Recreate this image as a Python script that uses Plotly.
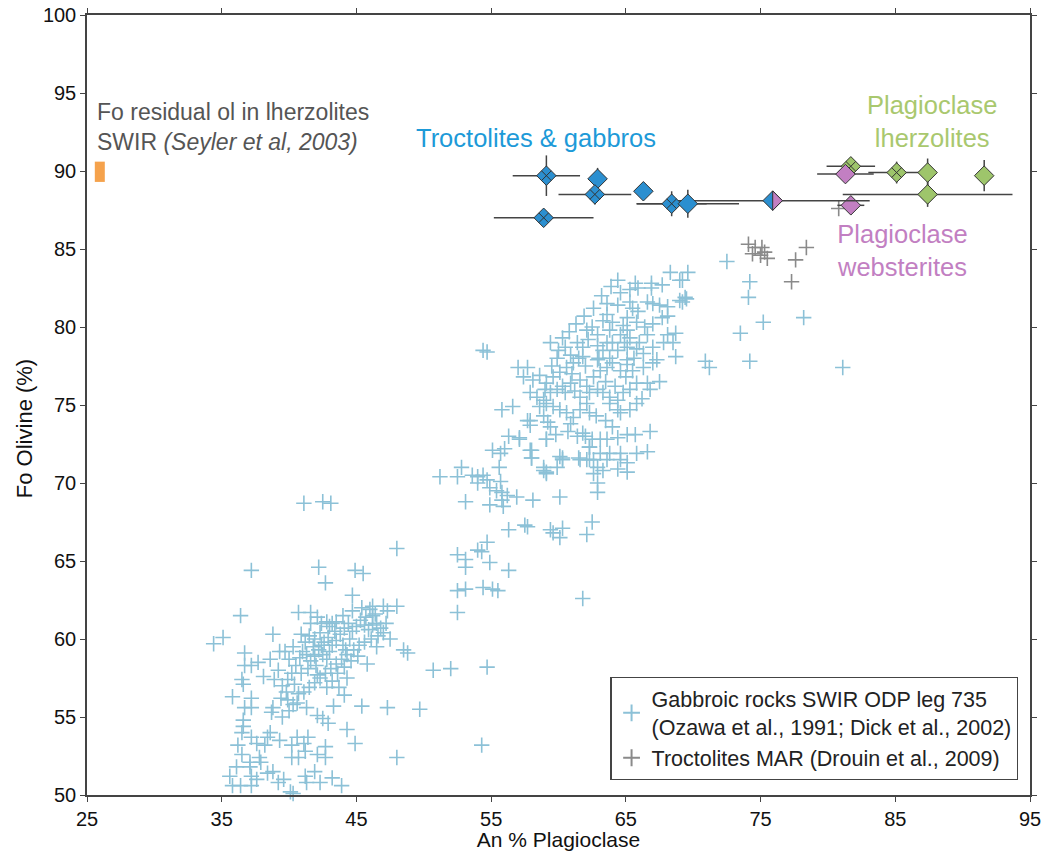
import plotly.graph_objects as go

# ---------------- DATA ----------------
# Gabbroic rocks SWIR ODP leg 735 (An %, Fo %)
gabbro_points = [
    (41.1,68.7),(42.5,68.8),(43.1,68.7),(37.2,64.4),(42.2,64.6),(42.7,63.6),(44.9,64.4),(45.5,64.2),(48.0,65.8),
    (36.4,61.5),(44.7,62.8),(38.8,60.3),(40.7,61.7),(41.6,61.7),(42.1,61.4),(42.8,61.1),(43.2,61.0),
    (46.2,62.1),(47.0,62.1),(48.0,62.1),(47.3,61.8),(46.2,61.5),(35.1,60.1),
    (34.4,59.7),(36.7,59.1),(39.3,59.2),(38.6,58.7),(37.7,58.5),(36.7,58.3),(37.2,58.3),
    (38.1,57.6),(36.5,57.4),(36.6,57.1),(35.8,56.3),(37.2,56.2),(36.7,55.6),(37.2,55.6),(38.8,55.6),(39.5,55.0),(38.7,55.3),
    (36.6,54.8),(36.6,54.4),(36.5,54.0),(37.2,53.7),(37.6,53.3),(38.4,53.7),(38.6,54.0),(38.2,53.2),(36.2,53.2),(36.5,52.6),
    (37.8,52.4),(37.9,52.1),(37.1,52.1),(37.1,51.8),(36.1,51.8),(35.6,51.2),(35.8,50.6),(36.4,50.6),(37.2,50.6),(37.2,51.2),
    (37.6,51.0),(38.4,51.4),(38.8,51.5),(39.2,50.8),(39.6,51.0),(40.1,50.2),(40.3,50.1),
    (39.3,53.5),(40.2,53.2),(40.6,53.7),(41.1,53.3),(41.4,53.7),(41.2,52.8),(42.1,52.6),(42.7,53.1),(42.7,52.4),(40.2,52.4),(40.7,52.4),
    (41.2,51.2),(41.3,50.8),(41.9,51.5),(42.3,50.8),(43.2,51.1),(43.9,50.6),
    (44.3,54.2),(44.9,53.3),(48.0,52.4),(42.5,54.9),(42.9,54.6),(42.1,55.1),
    (39.8,56.6),(39.9,56.1),(40.3,55.8),(41.3,55.6),(43.3,55.7),(45.4,55.7),(47.3,55.6),(49.7,55.5),(44.1,56.4),
    (48.5,59.3),(48.8,59.1),
    (39.5,57.0),(39.9,57.4),(40.2,57.8),(40.5,58.3),(40.8,58.8),(41.0,59.2),(41.3,59.0),(41.6,58.6),(41.9,58.9),(42.2,59.3),
    (42.5,59.0),(42.8,58.7),(41.2,59.8),(41.5,60.2),(41.9,60.0),(42.3,60.4),(42.6,59.8),(42.9,60.1),(43.2,59.6),(43.5,59.9),
    (43.8,60.3),(44.1,60.7),(44.4,61.0),(44.7,60.5),(45.0,60.8),(45.3,61.2),(45.6,60.9),(45.9,60.6),(46.2,60.9),(46.5,61.0),
    (46.8,60.7),(47.0,60.4),(46.6,60.2),(46.1,60.0),(45.6,59.8),(45.2,59.6),(44.8,59.3),(44.3,59.0),(43.9,58.7),(43.5,58.4),
    (43.1,58.1),(42.7,57.8),(42.3,57.5),(41.9,57.2),(41.5,56.9),(41.1,56.6),(40.7,56.5),(40.4,57.1),(40.9,57.8),(41.4,58.1),
    (42.0,58.3),(43.0,59.2),(44.0,59.6),(44.5,60.0),(45.7,61.4),(46.4,61.6),(47.2,61.0),(45.1,58.9),(44.6,58.6),(44.1,58.2),
    (43.6,57.8),(43.2,57.3),(42.8,56.9),(40.0,58.7),(39.7,59.2),(40.3,59.5),(40.9,60.3),(41.6,61.0),(42.4,61.0),(43.5,61.1),
    (44.0,61.5),(44.7,61.8),(45.4,62.0),(46.0,61.9),(39.2,58.0),(38.9,57.4),(39.4,56.2),(40.0,55.4),(40.6,55.9),(42.1,57.7),
    (43.7,56.9),(44.3,57.5),(45.8,58.4),(46.5,59.5),(47.5,60.0),(42.4,59.6),(41.8,59.5),(43.4,60.5),(43.0,60.8),(44.2,59.3),
    (54.4,78.5),(54.7,78.4),(57.0,77.4),(57.4,76.8),(55.8,74.7),(56.6,74.9),(57.9,74.0),(56.3,73.0),(57.1,72.8),(59.1,72.8),
    (55.1,72.1),(55.7,71.9),(56.0,72.2),(58.0,72.1),(58.0,71.6),(55.6,71.0),(52.8,71.0),(52.5,70.4),(51.2,70.4),(53.6,70.5),
    (54.0,70.4),(54.4,70.5),(54.7,70.2),(54.0,70.0),(54.9,69.7),(55.4,69.5),(55.8,69.4),(56.2,69.2),(56.9,69.1),(55.8,68.9),
    (55.9,68.5),(54.9,68.6),(53.1,68.8),(55.7,70.1),(58.1,68.9),(60.1,69.1),(58.9,70.8),(59.1,70.6),(59.9,71.0),(60.3,71.5),
    (60.1,71.7),(61.5,71.6),(62.1,71.5),(62.6,71.5),(62.6,70.6),(62.9,70.0),(62.9,69.4),(62.0,73.0),(62.3,72.3),(57.5,67.3),
    (57.7,67.2),(56.3,67.0),(59.4,67.0),(59.6,66.8),(60.3,67.1),(60.1,66.5),(62.5,67.5),(62.1,66.7),(54.7,66.2),(54.0,65.7),
    (54.3,65.6),(52.5,65.4),(53.1,65.1),(53.1,64.6),(54.9,64.9),(56.3,64.4),(52.5,63.1),(53.1,63.2),(54.4,63.3),(55.1,63.2),
    (55.5,63.1),(52.5,61.7),(61.8,62.6),(54.3,53.2),(54.7,58.2),(52.0,58.1),(50.7,58.0),
    (72.5,84.2),(74.2,82.9),(74.1,81.9),(75.2,80.3),(78.2,80.6),(73.5,79.6),(70.9,77.8),(71.2,77.4),(74.2,77.8),(81.1,77.4),
    (69.6,83.5),(69.2,83.0),(69.4,81.9),(69.2,81.6),
    (68.3,83.5),(69.0,83.0),(66.9,82.8),(67.7,82.7),(65.7,82.8),(65.9,82.5),(64.6,82.2),(65.3,82.4),(66.9,82.5),(69.0,81.7),
    (69.5,81.8),(66.6,81.6),(67.0,81.5),(67.5,81.4),(68.1,81.3),(68.1,80.7),(67.7,80.6),(63.6,81.5),(64.4,81.4),(65.3,81.6),
    (65.5,81.2),(65.9,81.0),(63.6,80.8),(63.3,80.4),(64.0,80.3),(65.1,80.6),(64.8,80.1),(65.8,80.3),(62.1,79.8),(62.9,79.5),
    (63.8,79.8),(64.6,79.5),(65.1,79.8),(65.3,79.3),(68.1,79.5),(68.7,79.6),(67.8,79.0),(68.5,79.0),(66.6,79.5),(67.0,78.7),
    (59.4,79.0),(60.3,79.3),(60.5,78.7),(61.4,79.0),(62.2,79.2),(61.8,78.7),(62.9,78.8),(63.6,79.0),(63.3,78.5),(64.4,78.5),
    (65.1,78.7),(65.8,78.6),(66.3,78.3),(68.7,78.1),(59.9,78.0),(60.9,78.2),(61.8,78.1),(62.9,77.9),(63.8,78.0),(65.1,77.9),
    (67.3,77.9),(57.7,77.4),(58.1,76.6),(58.6,76.9),(59.1,76.4),(59.6,76.8),(60.1,77.1),(60.6,77.4),(61.1,77.7),
    (57.9,75.8),(58.4,75.5),(58.9,75.3),(59.4,75.8),(59.9,76.0),(60.3,76.2),(60.9,76.4),(58.6,74.9),(59.1,75.1),(59.6,74.9),
    (60.1,74.7),(60.6,74.5),(61.1,74.2),(60.9,73.8),(61.6,74.7),(62.1,75.1),(62.3,74.5),(61.6,75.5),(62.3,75.8),(62.1,76.2),
    (61.6,76.6),(62.6,76.8),(63.1,77.2),(63.6,77.4),(64.0,77.7),(64.6,77.2),(65.1,77.6),(65.5,77.2),(66.3,77.4),(67.0,77.7),
    (62.9,76.0),(63.3,75.8),(63.8,75.5),(64.4,75.3),(64.8,75.8),(65.3,76.0),(65.8,76.4),(66.6,76.4),(67.5,76.5),(66.8,76.0),
    (63.8,75.1),(64.4,74.7),(64.6,74.5),(65.3,74.7),(65.8,75.1),(66.2,75.4),(57.7,74.0),(57.9,73.7),(59.2,73.9),(59.4,73.6),
    (57.1,72.9),(59.1,72.8),(61.8,73.2),(62.5,72.8),(63.1,72.8),(63.6,72.8),(64.4,72.9),(65.1,73.1),(65.7,73.1),(66.8,73.3),
    (62.3,72.3),(63.1,71.9),(63.8,71.9),(64.6,71.9),(65.8,71.9),(66.6,72.0),(61.6,71.5),(62.3,71.5),(63.6,71.5),(64.6,71.5),
    (65.1,71.3),(62.9,71.0),(63.3,70.8),(64.4,70.9),(65.1,70.7),(57.9,72.1),(58.0,71.6),(60.3,71.6),(58.9,71.0),(59.1,70.7),
    (59.0,76.0),(59.5,77.5),(60.0,78.5),(60.8,79.7),(61.3,80.2),(61.9,80.7),(62.6,81.2),(63.2,82.0),(63.9,82.6),(64.4,83.0),
    (62.5,80.0),(61.0,77.0),(61.5,78.0),(62.0,77.5),(63.0,78.0),(64.0,79.0),(64.9,79.0),(63.5,76.5),(64.2,76.2),(65.0,76.8),
    (65.6,78.0),(66.0,79.0),(66.4,80.0),(67.0,80.2),(60.5,75.8),(61.2,75.9),(62.8,74.3),(63.5,74.0),(64.0,73.6),(61.4,73.0),
    (60.7,73.3),(58.9,74.3),(59.8,73.1),
]
gabbro_an = [p[0] for p in gabbro_points]
gabbro_fo = [p[1] for p in gabbro_points]

# Troctolites MAR (Drouin et al., 2009)
mar_an = [74.1, 74.6, 75.1, 74.4, 75.0, 75.5, 75.3, 77.6, 78.4, 77.3, 80.8]
mar_fo = [85.3, 85.1, 85.1, 84.7, 84.6, 84.4, 84.8, 84.3, 85.1, 82.9, 87.6]

# Troctolites & gabbros (mean with 1-sigma bars)
tg_an     = [59.1, 62.9, 62.7, 66.3, 68.4, 69.6]
tg_fo     = [89.7, 89.5, 88.5, 88.7, 87.9, 87.9]
tg_an_err = [2.5, 0.0, 2.7, 0.0, 2.6, 3.8]
tg_fo_err = [1.3, 0.7, 0.65, 0.0, 0.8, 0.9]
tg_symbol = ["diamond-x", "diamond", "diamond-x", "diamond", "diamond-x", "diamond"]
tg2_an, tg2_fo, tg2_an_err, tg2_fo_err = [58.9], [87.0], [3.7], [0.5]   # lower cross-hatched one
tg2_symbol = ["diamond-x"]

# Mixed sample (troctolite / websterite)
mix_an, mix_fo, mix_an_err, mix_fo_err = [75.9], [88.1], [7.2], [0.6]

# Plagioclase lherzolites
pl_an     = [81.7, 85.1, 87.4, 91.6, 87.4]
pl_fo     = [90.3, 89.9, 89.9, 89.7, 88.5]
pl_an_err = [1.8, 2.1, 0.0, 0.0, 6.3]
pl_fo_err = [0.4, 0.7, 0.9, 1.0, 0.8]
pl_symbol = ["diamond-x", "diamond-x", "diamond", "diamond", "diamond"]

# Plagioclase websterites
pw_an     = [81.3, 81.7]
pw_fo     = [89.8, 87.8]
pw_an_err = [2.1, 1.0]
pw_fo_err = [0.3, 0.4]

# Residual olivine in lherzolites SWIR (Seyler et al, 2003)
seyler_an = [25.95, 25.95]
seyler_fo = [89.3, 90.6]

x_ticks = [25, 35, 45, 55, 65, 75, 85, 95]
y_ticks = [50, 55, 60, 65, 70, 75, 80, 85, 90, 95, 100]

# ---------------- STYLE ----------------
FONT = "Liberation Sans"
BLUE_PT = "#8cc1d7"
GRAY_PT = "#8a8a8a"
TG_COL = "#2b8fd0"
PL_COL = "#9ec56b"
PW_COL = "#c27fc2"
EDGE = "#333333"
D_SIZE = 15

fig = go.Figure()

fig.add_trace(go.Scatter(
    x=gabbro_an, y=gabbro_fo, mode="markers", cliponaxis=False,
    name="Gabbroic rocks SWIR ODP leg 735<br>(Ozawa et al., 1991; Dick et al., 2002)",
    marker=dict(symbol="cross-thin", size=11, line=dict(color=BLUE_PT, width=1.6), color=BLUE_PT),
))
fig.add_trace(go.Scatter(
    x=mar_an, y=mar_fo, mode="markers", cliponaxis=False,
    name="Troctolites MAR (Drouin et al., 2009)",
    marker=dict(symbol="cross-thin", size=11, line=dict(color=GRAY_PT, width=1.6), color=GRAY_PT),
))

fig.add_trace(go.Scatter(
    x=seyler_an, y=seyler_fo, mode="lines", showlegend=False,
    line=dict(color="#f5a24c", width=10),
))

def diamonds(xs, ys, xe, ye, color, symbols):
    fig.add_trace(go.Scatter(
        x=xs, y=ys, mode="markers", showlegend=False, cliponaxis=False,
        error_x=dict(type="data", array=xe, color="#444444", thickness=1.5, width=0),
        error_y=dict(type="data", array=ye, color="#444444", thickness=1.5, width=0),
        marker=dict(symbol=symbols, size=D_SIZE, color=color, line=dict(color=EDGE, width=1)),
    ))

diamonds(tg2_an, tg2_fo, tg2_an_err, tg2_fo_err, TG_COL, tg2_symbol)
diamonds(pl_an, pl_fo, pl_an_err, pl_fo_err, PL_COL, pl_symbol)
diamonds(pw_an, pw_fo, pw_an_err, pw_fo_err, PW_COL, ["diamond"] * len(pw_an))
diamonds(mix_an, mix_fo, mix_an_err, mix_fo_err, TG_COL, ["diamond"])
diamonds(tg_an, tg_fo, tg_an_err, tg_fo_err, TG_COL, tg_symbol)

# right half of mixed diamond in websterite colour (pixel-sized shape anchored at the data point)
rd = 0.65 * D_SIZE
for xa, ya in zip(mix_an, mix_fo):
    fig.add_shape(
        type="path", xref="x", yref="y", xsizemode="pixel", ysizemode="pixel",
        xanchor=xa, yanchor=ya,
        path=f"M 0,{-rd} L {rd},0 L 0,{rd} Z",
        fillcolor=PW_COL, line=dict(color=EDGE, width=1), layer="above",
    )

# ---------------- TEXT ----------------
fig.add_annotation(x=58.3, y=92.1, text="Troctolites & gabbros", showarrow=False,
                   font=dict(family=FONT, size=25.5, color="#1d9ad8"), xanchor="center", yanchor="middle")
fig.add_annotation(x=87.7, y=93.2, text="Plagioclase<br>lherzolites", showarrow=False,
                   font=dict(family=FONT, size=25.5, color="#a9c86e"), xanchor="center", yanchor="middle")
fig.add_annotation(x=85.5, y=84.9, text="Plagioclase<br>websterites", showarrow=False,
                   font=dict(family=FONT, size=25.5, color="#c27fc2"), xanchor="center", yanchor="middle")
fig.add_annotation(x=25.6, y=92.8, text="Fo residual ol in lherzolites<br>SWIR <i>(Seyler et al, 2003)</i>",
                   showarrow=False, align="left",
                   font=dict(family=FONT, size=23, color="#555555"), xanchor="left", yanchor="middle")
# y-axis title (placed as in the reference, slightly below the axis middle)
fig.add_annotation(xref="paper", yref="paper", x=-0.066, y=0.47, text="Fo Olivine (%)", textangle=-90,
                   showarrow=False, xanchor="center", yanchor="middle",
                   font=dict(family=FONT, size=22, color="#111111"))

axis_common = dict(
    showgrid=False, zeroline=False, showline=True, linecolor="#444444", linewidth=1.5,
    ticks="outside", ticklen=5, tickwidth=1.2, tickcolor="#444444", mirror="ticks",
    tickfont=dict(family=FONT, size=20, color="#111111"), automargin=False,
    ticklabeloverflow="allow",
)

# page body has an 8px margin: size/margins chosen so the plot area lands at 87..1030 x 15..795
fig.update_layout(
    width=1037, height=843,
    margin=dict(l=79, r=15, t=7, b=56),
    paper_bgcolor="white", plot_bgcolor="white",
    font=dict(family=FONT, color="#111111"),
    xaxis=dict(range=[25, 95], tickvals=x_ticks,
               title=dict(text="An % Plagioclase", font=dict(family=FONT, size=21, color="#111111"), standoff=8),
               **axis_common),
    yaxis=dict(range=[50, 100], tickvals=y_ticks, **axis_common),
    legend=dict(x=0.555, y=0.019, xanchor="left", yanchor="bottom",
                bordercolor="#444444", borderwidth=1.2, bgcolor="white",
                font=dict(family=FONT, size=21.5, color="#222222"),
                itemsizing="constant", tracegroupgap=2),
    showlegend=True,
)

fig.write_html("out.html")
